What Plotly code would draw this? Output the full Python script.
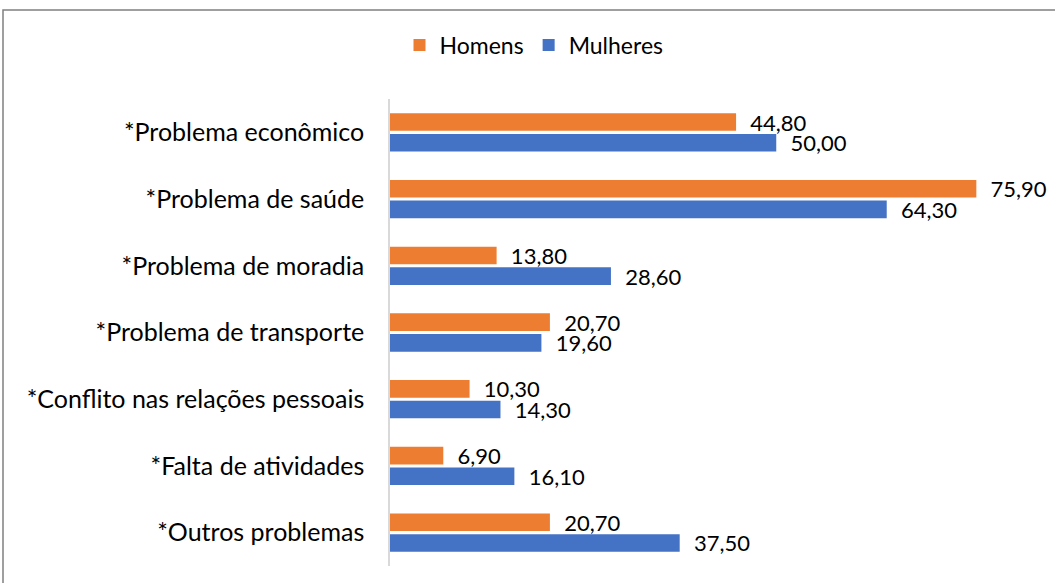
import plotly.graph_objects as go

categories = ["*Problema econômico", "*Problema de saúde", "*Problema de moradia",
              "*Problema de transporte", "*Conflito nas relações pessoais",
              "*Falta de atividades", "*Outros problemas"]
homens = [44.80, 75.90, 13.80, 20.70, 10.30, 6.90, 20.70]
mulheres = [50.00, 64.30, 28.60, 19.60, 14.30, 16.10, 37.50]

FONT = "Lato"
W, H = 1055, 583
ml, mr, mt, mb = 390, 47, 99, 17
LBL = 22
TICK = 25

def fmt(v):
    return "\u00a0\u00a0" + f"{v:.2f}".replace(".", ",")

fig = go.Figure()
for name, vals, col in [("Homens", homens, "#ED7D31"), ("Mulheres", mulheres, "#4472C4")]:
    fig.add_trace(go.Bar(y=categories, x=vals, orientation="h", name=name,
                         marker=dict(color=col, line=dict(width=0)),
                         text=[fmt(v) for v in vals], textposition="outside",
                         constraintext="none",
                         textfont=dict(size=LBL, color="#000000", family=FONT),
                         cliponaxis=False))

pw = W - ml - mr
ph = H - mt - mb
fig.update_layout(
    width=W, height=H,
    margin=dict(l=ml, r=mr, t=mt, b=mb, autoexpand=False),
    paper_bgcolor="white", plot_bgcolor="white",
    barmode="group", bargap=0.38, bargroupgap=0.15,
    font=dict(family=FONT, size=LBL, color="#000000"),
    legend=dict(orientation="h", x=(534 - ml) / pw, xanchor="center",
                y=(H - mb - 45) / ph, yanchor="middle", bgcolor="rgba(0,0,0,0)",
                font=dict(size=23, family=FONT), traceorder="normal"),
    xaxis=dict(range=[0, 80], showticklabels=False, showgrid=False,
               zeroline=False, showline=False, ticks="", automargin=False),
    yaxis=dict(autorange="reversed", showline=True, linecolor="#d9d9d9",
               linewidth=1.5, ticks="", showgrid=False, automargin=False,
               ticklabelstandoff=19, tickfont=dict(size=TICK, family=FONT)),
    shapes=[dict(type="rect", xref="paper", yref="paper",
                 x0=(3 - ml) / pw, x1=(1060 - ml) / pw,
                 y0=(H - mb - 590) / ph, y1=(H - mb - 10) / ph,
                 line=dict(color="#808080", width=1.5), fillcolor="rgba(0,0,0,0)")],
)
fig.write_html("out.html", config={"displayModeBar": False},
               post_script="document.body.style.margin='0';")
